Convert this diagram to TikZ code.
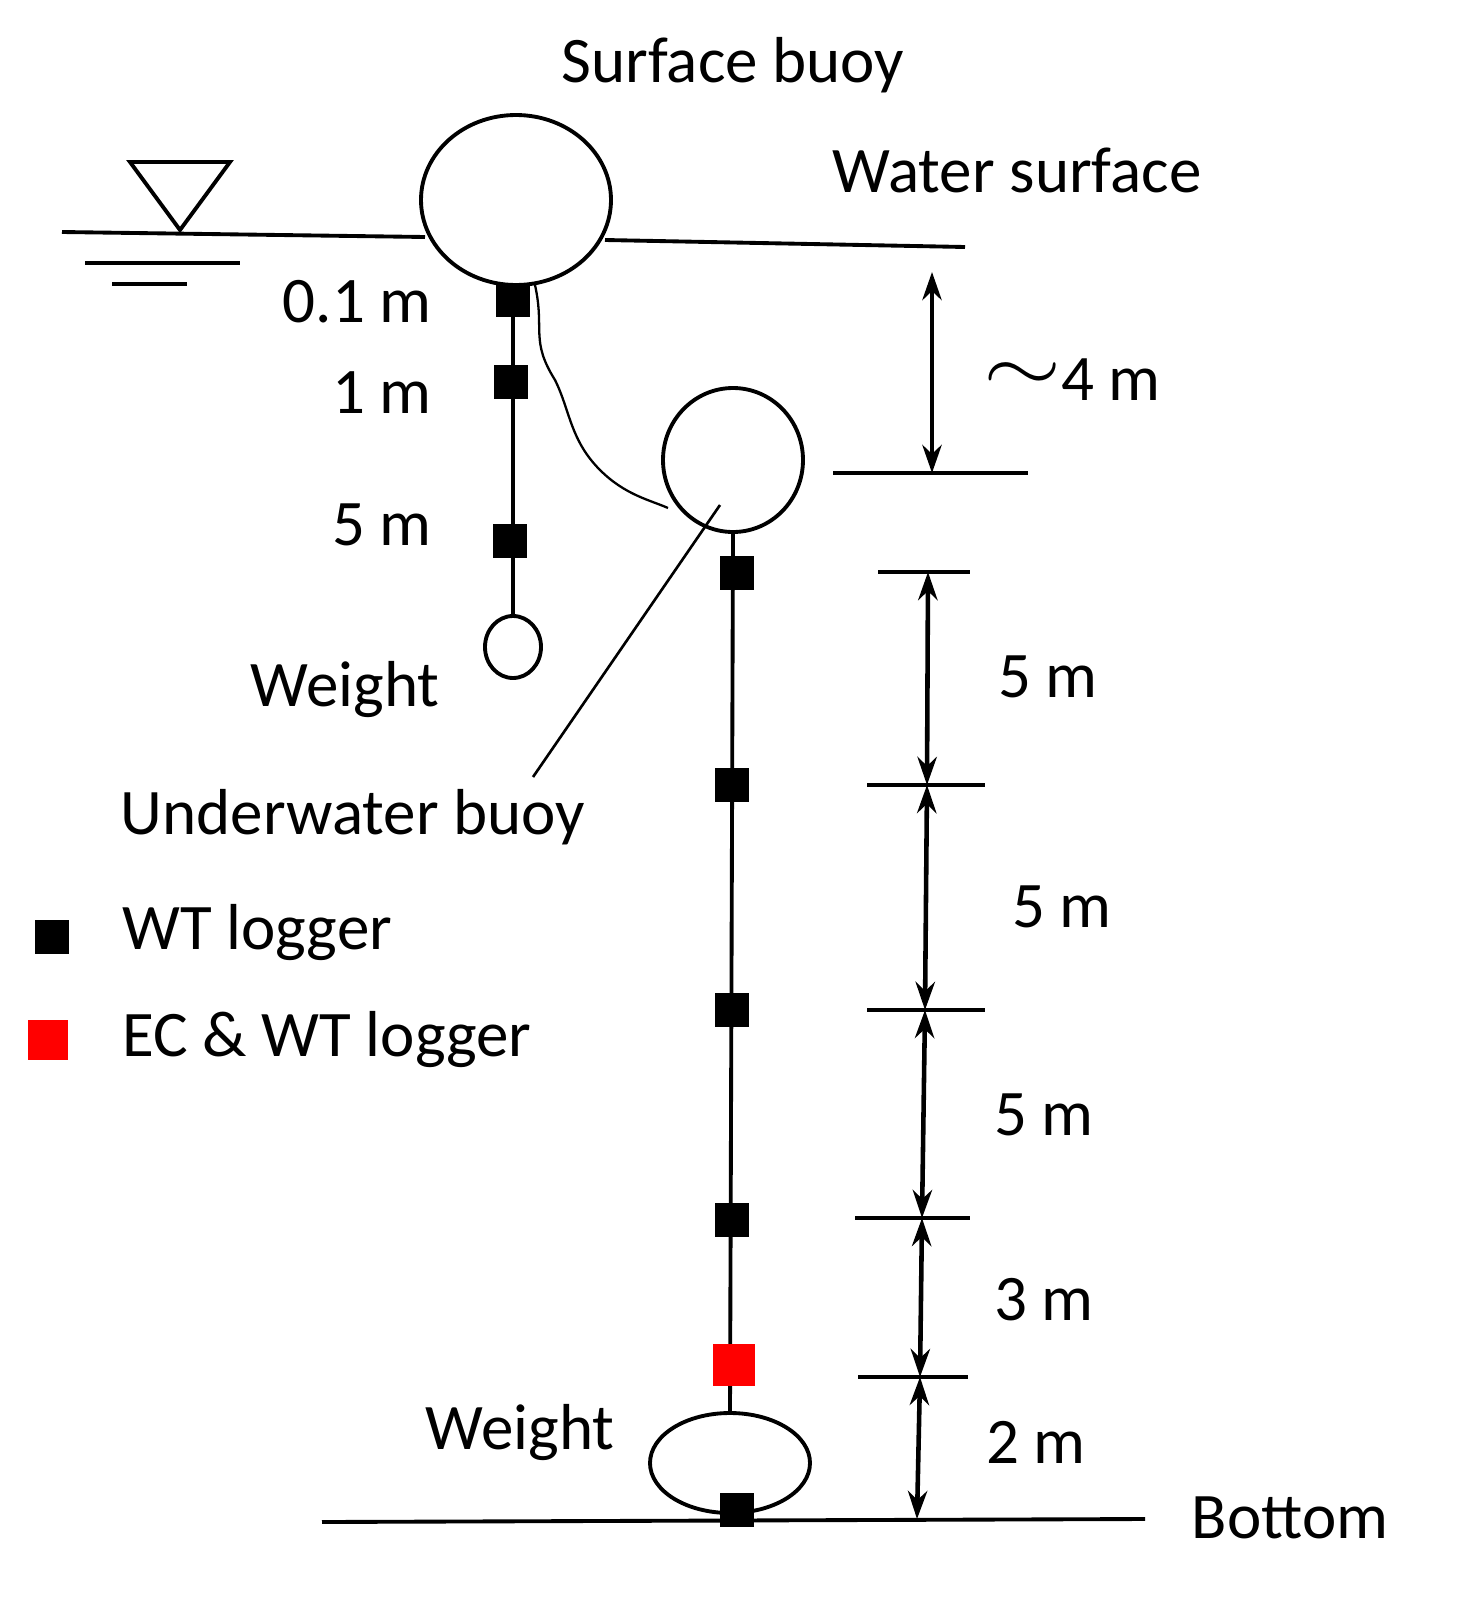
\documentclass[tikz,border=0pt]{standalone}
\usepackage{fontspec}
\setmainfont{Carlito}
\usetikzlibrary{arrows.meta,shapes.geometric}
\begin{document}
\begin{tikzpicture}[x=0.02cm,y=-0.02cm,
  lbl/.style={font=\fontsize{37}{44}\selectfont,inner sep=0pt},
  lg/.style={fill=black,minimum size=34*0.02cm,inner sep=0pt},
  ln/.style={line width=2.2pt},
  dim/.style={line width=2.6pt,{Stealth[length=16pt,width=11pt]}-{Stealth[length=16pt,width=11pt]}}]
\useasboundingbox (0,0) rectangle (1459,1599);
% water surface
\draw[ln] (130,162) -- (230,162) -- (180,230) -- cycle;
\draw[ln] (62,232) -- (425,237);
\draw[ln] (605,240) -- (965,247);
\draw[ln] (85,263) -- (240,263);
\draw[ln] (112,284) -- (187,284);
% surface buoy
\node[ln,draw,ellipse,minimum width=190*0.02cm,minimum height=170*0.02cm,inner sep=0pt] (sb) at (516,200) {};
\node[lbl] (tsb) at (733,65) {Surface buoy};
\node[lbl] (tws) at (1017,170) {Water surface};
% left rope
\coordinate (lr0) at (513,285);
\node[ln,draw,ellipse,minimum width=56*0.02cm,minimum height=62*0.02cm,inner sep=0pt] (w1) at (513,647) {};
\draw[ln] (lr0) -- (w1.north);
\node[lg] (l1) at (513,300) {};
\node[lg] (l2) at (511,382) {};
\node[lg] (l3) at (510,541) {};
\node[lbl,anchor=east] (t01) at (432,302) {0.1 m};
\node[lbl,anchor=east] (t1) at (432,393) {1 m};
\node[lbl,anchor=east] (t5) at (432,525) {5 m};
\node[lbl] (tw1) at (345,690) {Weight};
% underwater buoy
\node[ln,draw,ellipse,minimum width=140*0.02cm,minimum height=144*0.02cm,inner sep=0pt] (ub) at (733,460) {};
\coordinate (c0) at (535,285);
\coordinate (c1) at (668,508);
\draw[line width=1.3pt] (c0) .. controls (545,330) and (530,340) .. (555,380) .. controls (570,410) and (570,440) .. (600,470) .. controls (625,495) and (650,500) .. (c1);
\coordinate (ld1) at (720,505);
\coordinate (ld2) at (533,777);
\draw[line width=1.5pt] (ld1) -- (ld2);
\node[lbl] (tub) at (353,817) {Underwater buoy};
% right rope
\node[ln,draw,ellipse,minimum width=160*0.02cm,minimum height=100*0.02cm,inner sep=0pt] (w2) at (730,1463) {};
\draw[ln] (ub.south) -- (w2.north);
\node[lg] (r1) at (737,573) {};
\node[lg] (r2) at (732,785) {};
\node[lg] (r3) at (732,1010) {};
\node[lg] (r4) at (732,1220) {};
\node[fill=red,minimum size=42*0.02cm,inner sep=0pt] (r5) at (734,1365) {};
\node[lg] (r6) at (737,1510) {};
\node[lbl] (tw2) at (520,1432) {Weight};
\coordinate (b1) at (322,1522); \coordinate (b2) at (1145,1519);
\draw[ln] (b1) -- (b2);
\node[lbl] (tbot) at (1290,1518) {Bottom};
% legend
\node[lg] (lgb) at (52,937) {};
\node[fill=red,minimum size=40*0.02cm,inner sep=0pt] (lgr) at (48,1040) {};
\node[lbl,anchor=west] (twt) at (122,933) {WT logger};
\node[lbl,anchor=west] (tec) at (122,1040) {EC \& WT logger};
% dimensions
\coordinate (h0a) at (833,473); \coordinate (h0b) at (1028,473);
\draw[ln] (h0a) -- (h0b);
\coordinate (d0) at (932,272); \coordinate (d0b) at (932,473);
\draw[dim] (d0) -- (d0b);
\node[lbl] (t4) at (1072,380) {\raisebox{0.15em}{\scalebox{2.3}[1.8]{$\sim$}}4 m};
\coordinate (h1a) at (878,572); \coordinate (h1b) at (970,572);
\coordinate (h2a) at (867,785); \coordinate (h2b) at (985,785);
\coordinate (h3a) at (867,1010); \coordinate (h3b) at (985,1010);
\coordinate (h4a) at (855,1218); \coordinate (h4b) at (970,1218);
\coordinate (h5a) at (858,1377); \coordinate (h5b) at (968,1377);
\foreach \a/\b in {h1a/h1b,h2a/h2b,h3a/h3b,h4a/h4b,h5a/h5b} \draw[ln] (\a) -- (\b);
\coordinate (p1) at (928,572); \coordinate (p2) at (927,785);
\coordinate (p3) at (925,1010); \coordinate (p4) at (922,1218);
\coordinate (p5) at (920,1377); \coordinate (p6) at (917,1519);
\draw[dim] (p1) -- (p2); \draw[dim] (p2) -- (p3); \draw[dim] (p3) -- (p4);
\draw[dim] (p4) -- (p5); \draw[dim] (p5) -- (p6);
\node[lbl] (ta) at (1048,677) {5 m};
\node[lbl] (tb) at (1062,907) {5 m};
\node[lbl] (tc) at (1044,1115) {5 m};
\node[lbl] (td) at (1044,1300) {3 m};
\node[lbl] (te) at (1036,1442) {2 m};
\end{tikzpicture}
\end{document}
